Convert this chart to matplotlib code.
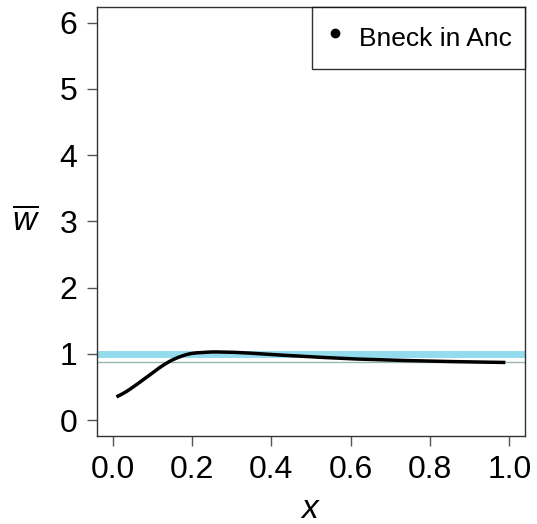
import numpy as np
import matplotlib
matplotlib.use("Agg")
import matplotlib.pyplot as plt
from matplotlib.lines import Line2D

plt.rcParams['font.family'] = ['Liberation Sans', 'DejaVu Sans']
plt.rcParams['mathtext.fontset'] = 'custom'
plt.rcParams['mathtext.it'] = 'Liberation Sans:italic'
plt.rcParams['mathtext.rm'] = 'Liberation Sans'

# mean fitness curve
x_vals = [0.01, 0.03, 0.05, 0.08, 0.10, 0.12, 0.15, 0.18, 0.20, 0.25, 0.30, 0.35,
          0.40, 0.50, 0.60, 0.70, 0.80, 0.90, 0.99]
w_vals = [0.35, 0.41, 0.49, 0.62, 0.71, 0.80, 0.91, 0.98, 1.01, 1.03, 1.025, 1.01,
          0.99, 0.955, 0.925, 0.905, 0.89, 0.878, 0.87]
ref_blue = 1.0
ref_grey = 0.88
legend_label = "Bneck in Anc"
xticks = [0.0, 0.2, 0.4, 0.6, 0.8, 1.0]
yticks = [0, 1, 2, 3, 4, 5, 6]

fig = plt.figure(figsize=(5.37, 5.24), dpi=100)
ax = fig.add_axes([0.180, 0.168, 0.798, 0.819])

ax.axhline(ref_blue, color="#93dcee", lw=5, zorder=1)
ax.axhline(ref_grey, color="#9ab7b5", lw=1, zorder=1)

# light smoothing between the read points
xs = np.linspace(x_vals[0], x_vals[-1], 400)
ys = np.interp(xs, x_vals, w_vals)
k = np.ones(11) / 11
ys_s = np.convolve(np.pad(ys, 5, mode='reflect', reflect_type='odd'), k, mode='valid')
ax.plot(xs, ys_s, color="black", lw=2.5, zorder=3, solid_capstyle='butt')

ax.set_xlim(-0.04, 1.04)
ax.set_ylim(-0.24, 6.24)
ax.set_xticks(xticks)
ax.set_xticklabels([f"{t:.1f}" for t in xticks])
ax.set_yticks(yticks)
ax.tick_params(axis='both', labelsize=23, length=7, width=1, color="#555555", direction='out', pad=7)
for s in ax.spines.values():
    s.set_linewidth(1)
    s.set_color("#333333")

ax.set_xlabel("$x$", fontsize=24, labelpad=6)
ax.set_ylabel(r"$\overline{w}$", fontsize=24, rotation=0, labelpad=24, va='center')

handle = Line2D([], [], color="black", marker='o', linestyle='none', markersize=6)
leg = ax.legend([handle], [legend_label], loc='upper right', fontsize=19, frameon=True,
                fancybox=False, borderaxespad=0, handletextpad=0.5, borderpad=0.5,
                handlelength=0.8, handleheight=1.7)
leg.get_frame().set_edgecolor("black")
leg.get_frame().set_linewidth(1)

fig.savefig("out.png", dpi=100)
